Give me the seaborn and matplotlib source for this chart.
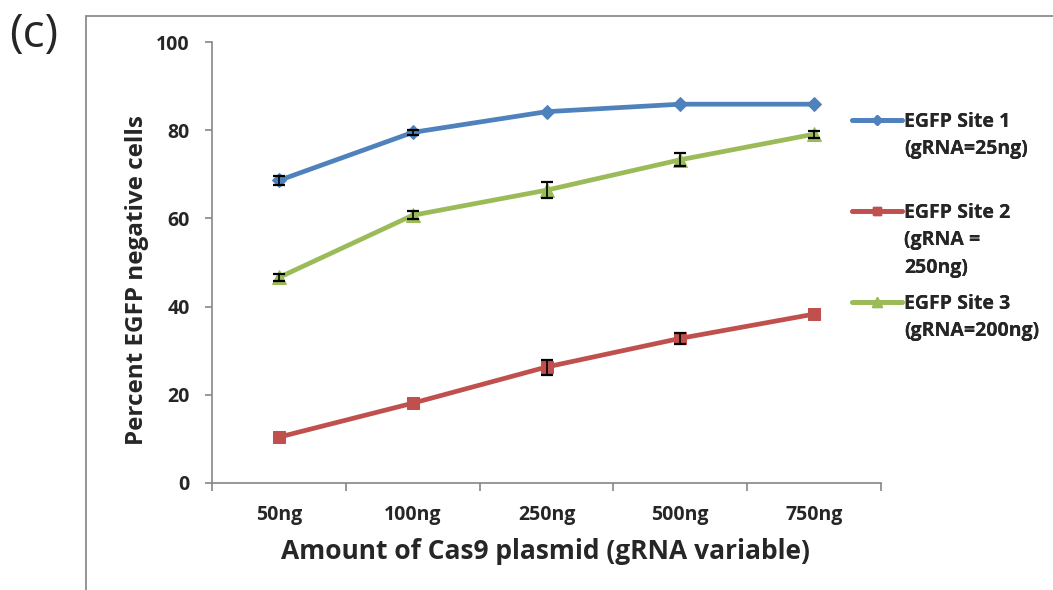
import matplotlib
matplotlib.use("Agg")
import matplotlib.pyplot as plt
import pandas as pd
import seaborn as sns
from matplotlib.lines import Line2D


doses = ["50ng", "100ng", "250ng", "500ng", "750ng"]
series_names = ["EGFP Site 1", "EGFP Site 2", "EGFP Site 3"]
legend_notes = ["(gRNA=25ng)", "(gRNA =\n250ng)", "(gRNA=200ng)"]

site1 = [68.6, 79.5, 84.2, 85.9, 85.9]
site2 = [10.4, 18.1, 26.3, 32.8, 38.3]
site3 = [46.6, 60.7, 66.4, 73.3, 79.1]

# 0 = no visible error bar in the source figure
site1_err = [1.1, 0.6, 0.0, 0.0, 0.0]
site2_err = [0.0, 0.0, 1.7, 1.2, 0.0]
site3_err = [0.8, 0.9, 1.8, 1.5, 0.8]

colors = ["#4F81BD", "#C0504D", "#9BBB59"]
markers = ["D", "s", "^"]
marker_sizes = [7, 8.5, 10]

FONT = ["Open Sans", "DejaVu Sans"]


def build_frame():
    rows = []
    for name, vals, errs in zip(series_names, [site1, site2, site3],
                                [site1_err, site2_err, site3_err]):
        for i, (dose, v, e) in enumerate(zip(doses, vals, errs)):
            rows.append({"pos": i, "dose": dose, "value": v, "err": e, "series": name})
    return pd.DataFrame(rows)


def main():
    sns.set_theme(style="white")
    plt.rcParams["font.family"] = FONT
    plt.rcParams["font.weight"] = "bold"

    df = build_frame()
    fig = plt.figure(figsize=(10.53, 5.90), dpi=100)
    ax = fig.add_axes([212 / 1053, 1 - 483 / 590, 669 / 1053, 441 / 590])

    for name, color, mk, ms in zip(series_names, colors, markers, marker_sizes):
        sub = df[df["series"] == name]
        sns.lineplot(data=sub, x="pos", y="value", color=color, marker=mk,
                     markersize=ms, markeredgecolor=color, linewidth=3.4,
                     ax=ax, legend=False, zorder=2)

    with_err = df[df["err"] > 0]
    ax.errorbar(with_err["pos"], with_err["value"], yerr=with_err["err"], fmt="none",
                ecolor="black", elinewidth=1.2, capsize=4, capthick=1.6, zorder=3)

    ax.set_xlim(-0.5, len(doses) - 0.5)
    ax.set_ylim(0, 100)
    ax.set_yticks(range(0, 101, 20))
    ax.set_xticks(range(len(doses)))
    ax.set_xticklabels(doses)
    ax.set_xticks([i - 0.5 for i in range(len(doses) + 1)], minor=True)

    ax.tick_params(axis="x", which="major", length=0, pad=16, labelsize=14)
    ax.tick_params(axis="x", which="minor", length=6, width=1.2, color="#868686",
                   direction="out", bottom=True)
    ax.tick_params(axis="y", which="major", length=5, width=1.2, color="#868686",
                   direction="out", left=True, pad=11, labelsize=14)
    for lbl in ax.get_xticklabels() + ax.get_yticklabels():
        lbl.set_fontweight("bold")

    for side in ["top", "right"]:
        ax.spines[side].set_visible(False)
    for side in ["left", "bottom"]:
        ax.spines[side].set_color("#868686")
        ax.spines[side].set_linewidth(1.2)

    ax.set_xlabel("Amount of Cas9 plasmid (gRNA variable)", fontsize=19, fontweight="bold")
    ax.set_ylabel("Percent EGFP negative cells", fontsize=17.5, fontweight="bold")
    ax.xaxis.set_label_coords(0.498, -0.125)
    ax.yaxis.set_label_coords(-0.094, 0.46)

    # legend: three blocks, handle sits on the first line of each block
    legend_tops = [125, 216, 307]
    for name, note, color, mk, ms, top in zip(series_names, legend_notes, colors,
                                              markers, marker_sizes, legend_tops):
        handle = Line2D([], [], color=color, marker=mk, markersize=ms * 0.75,
                        markeredgecolor=color, linewidth=3.4)
        blank = Line2D([], [], alpha=0)
        lines = [name] + note.split("\n")
        leg = fig.legend([handle] + [blank] * (len(lines) - 1), lines,
                         loc="upper left", bbox_to_anchor=(852 / 1053, 1 - (top - 13) / 590),
                         frameon=False, handlelength=2.55, handletextpad=0.15,
                         labelspacing=0.38, borderaxespad=0, borderpad=0,
                         prop={"family": FONT, "weight": "bold", "size": 14})
        fig.add_artist(leg)

    fig.text(9 / 1053, 1 - 35 / 590, "(c)", fontsize=33, fontweight="normal",
             va="center", ha="left")

    # chart-area frame edge, cut off by the crop
    fig.add_artist(Line2D([86 / 1053, 86 / 1053], [0, 1 - 16 / 590],
                          transform=fig.transFigure, color="#8c8c8c", linewidth=1.3))
    fig.add_artist(Line2D([86 / 1053, 1], [1 - 16 / 590, 1 - 16 / 590],
                          transform=fig.transFigure, color="#8c8c8c", linewidth=1.3))

    fig.savefig("out.png", dpi=100, facecolor="white")
    plt.close(fig)


if __name__ == "__main__":
    main()
